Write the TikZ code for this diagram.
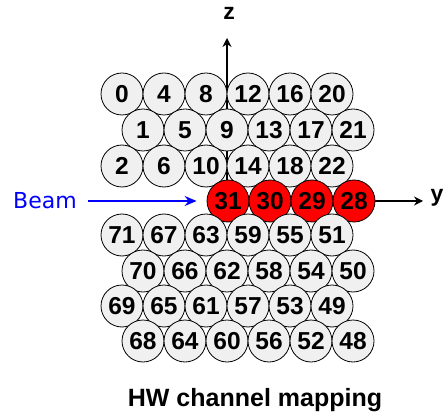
\documentclass[tikz,border=0pt]{standalone}
\usepackage{fontspec}
\setmainfont{Liberation Sans}
\newfontfamily\beamfont{DejaVu Sans}
\usetikzlibrary{arrows.meta}
\definecolor{cellgray}{HTML}{F0F0F0}
\begin{document}
\begin{tikzpicture}[x=1pt,y=-1pt,
  cell/.style={circle,draw=black,line width=0.8pt,fill=cellgray,minimum size=42pt,inner sep=0pt,
    font=\fontsize{24.5}{24.5}\selectfont\bfseries},
  hot/.style={cell,fill=red},
  axis/.style={line width=1.5pt,-{Stealth[length=9pt,width=9pt,inset=3pt]}},
  beamarrow/.style={blue,line width=1.5pt,-{Stealth[length=12pt,width=10pt,inset=4pt]}},
  lbl/.style={font=\fontsize{23}{23}\selectfont\bfseries,inner sep=0pt}]
\useasboundingbox (0,0) rectangle (446,419);
% axes (behind the cells)
\coordinate (o) at (227,201);
\coordinate (zend) at (227,38);
\coordinate (yend) at (423,201);
\draw[axis] (o) -- (zend);
\draw[axis] (o) -- (yend);
\node[lbl] (zl) at (229,13) {z};
\node[lbl] (yl) at (437,198) {y};
% cells
\foreach \n [count=\i from 0] in {0,4,8,12,16,20}
  \node[cell] (c\n) at (122+42*\i,94) {\n};
\foreach \n [count=\i from 0] in {1,5,9,13,17,21}
  \node[cell] (c\n) at (143+42*\i,130) {\n};
\foreach \n [count=\i from 0] in {2,6,10,14,18,22}
  \node[cell] (c\n) at (122+42*\i,166) {\n};
\foreach \n [count=\i from 0] in {31,30,29,28}
  \node[hot] (c\n) at (228+42*\i,201) {\n};
\foreach \n [count=\i from 0] in {71,67,63,59,55,51}
  \node[cell] (c\n) at (122+42*\i,235) {\n};
\foreach \n [count=\i from 0] in {70,66,62,58,54,50}
  \node[cell] (c\n) at (143+42*\i,271) {\n};
\foreach \n [count=\i from 0] in {69,65,61,57,53,49}
  \node[cell] (c\n) at (122+42*\i,306) {\n};
\foreach \n [count=\i from 0] in {68,64,60,56,52,48}
  \node[cell] (c\n) at (143+42*\i,341) {\n};
% beam
\node[blue,font=\beamfont\fontsize{22}{22}\selectfont,inner sep=0pt,anchor=west] (beam) at (13,201) {Beam};
\draw[beamarrow] ([xshift=11pt]beam.east) -- ([xshift=-10pt]c31.west);
% title
\node[font=\fontsize{25}{25}\selectfont\bfseries,inner sep=0pt,anchor=base] (title) at (255,406) {HW channel mapping};
\end{tikzpicture}
\end{document}
